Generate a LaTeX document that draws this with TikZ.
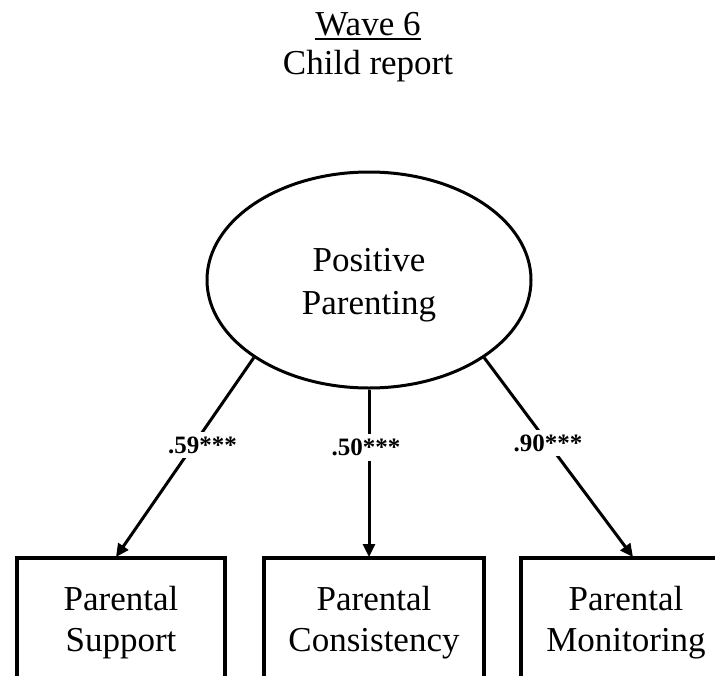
\documentclass[tikz,border=0pt]{standalone}
\usepackage{fontspec}
\setmainfont{Liberation Serif}
\usetikzlibrary{shapes.geometric,arrows.meta}
\begin{document}
\begin{tikzpicture}[x=1pt,y=-1pt,
  bigtext/.style={font=\fontsize{35}{39}\selectfont},
  latent/.style={ellipse, draw, line width=3pt, minimum width=324pt,
    minimum height=216pt, inner sep=0pt, align=center,
    font=\fontsize{35}{43}\selectfont},
  indicator/.style={rectangle, draw, line width=3.5pt, minimum height=130pt,
    inner sep=0pt, align=center, font=\fontsize{35}{41}\selectfont},
  loading/.style={-{Triangle[length=13pt,width=12pt]}, line width=3pt},
  coef/.style={fill=white, inner sep=5pt,
    font=\fontsize{25}{28}\selectfont\bfseries}]
\useasboundingbox (0,0) rectangle (715,675);
\clip (0,0) rectangle (715,675);

% heading
\node[bigtext, inner sep=0pt, anchor=base] (wave) at (368,35) {Wave 6};
\draw[line width=1.8pt] ([yshift=-4pt]wave.base west) -- ([yshift=-4pt]wave.base east);
\node[bigtext, inner sep=0pt, anchor=base] (rep) at (368,74) {Child report};

% latent factor (strut on the first line lowers the two lines a little)
\node[latent] (pp) at (369,280) {\rule{0pt}{34pt}Positive\\Parenting};

% observed indicators (open at the lower edge)
\node[indicator, minimum width=208pt] (sup) at (121,623) {Parental\\Support};
\node[indicator, minimum width=220pt] (con) at (374,623) {Parental\\Consistency};
\node[indicator, minimum width=210pt] (mon) at (626,623) {Parental\\Monitoring};

% arrow targets on the top edges of the boxes
\coordinate (supt) at (116,557);
\coordinate (cont) at (369,557);
\coordinate (mont) at (633,557);

% factor loadings
\draw[loading] (pp.214.75) -- node[coef, pos=0.438, xshift=9pt] {.59***} (supt);
\draw[loading] (pp.south) -- node[coef, pos=0.347, xshift=-3pt] {.50***} (cont);
\draw[loading] (pp.326.9) -- node[coef, pos=0.428] {.90***} (mont);
\end{tikzpicture}
\end{document}
